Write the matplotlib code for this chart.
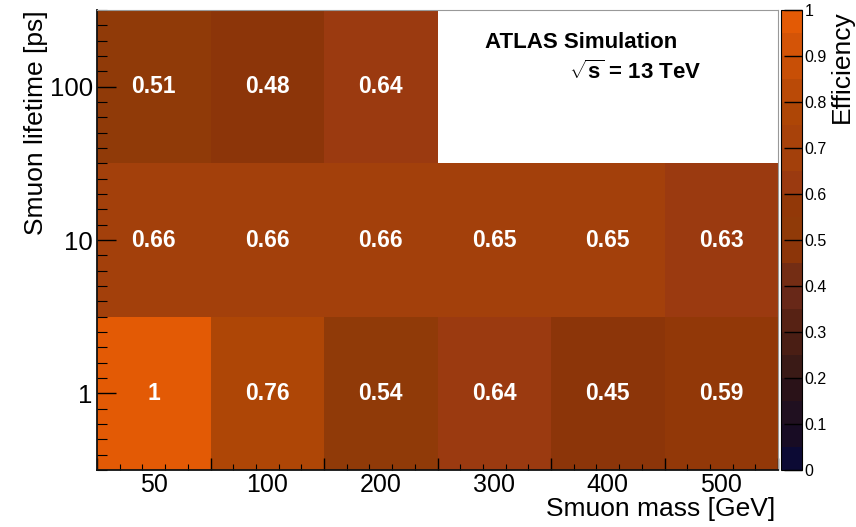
import matplotlib

matplotlib.use("Agg")
import numpy as np
import matplotlib.pyplot as plt
from matplotlib.colors import ListedColormap, BoundaryNorm

plt.rcParams["font.family"] = ["Liberation Sans", "DejaVu Sans"]
plt.rcParams["mathtext.fontset"] = "custom"
plt.rcParams["mathtext.rm"] = "Liberation Sans"
plt.rcParams["mathtext.bf"] = "Liberation Sans:bold"

# Signal grid: smuon mass points and lifetimes
masses = ["50", "100", "200", "300", "400", "500"]
lifetimes = [1, 10, 100]
eff_1ps = [1.0, 0.76, 0.54, 0.64, 0.45, 0.59]
eff_10ps = [0.66, 0.66, 0.66, 0.65, 0.65, 0.63]
eff_100ps = [0.51, 0.48, 0.64, np.nan, np.nan, np.nan]

# 20-step palette, dark navy at 0 up to orange at 1
palette = ["#0c0a34", "#180c24", "#201020", "#2a1218", "#3a1a16",
           "#4a1e14", "#572214", "#682818", "#742d14", "#8c3509",
           "#903a08", "#923808", "#9b3a10", "#a3400b", "#a8420a",
           "#ae4606", "#ba4a07", "#c84f06", "#d45407", "#e35a05"]
cmap = ListedColormap(palette)
cmap.set_bad("white")
levels = np.linspace(0, 1, 21)
norm = BoundaryNorm(levels, cmap.N)


def main():
    fig = plt.figure(figsize=(8.56, 5.27), dpi=100)
    ax = fig.add_axes([0.1133, 0.108, 0.7957, 0.873])
    cax = fig.add_axes([0.9124, 0.108, 0.0246, 0.873])

    z = np.ma.masked_invalid(np.array([eff_1ps, eff_10ps, eff_100ps]))
    xedges = np.arange(len(masses) + 1)
    ylog = np.log10(lifetimes)
    yedges = np.concatenate([ylog - 0.5, [ylog[-1] + 0.5]])
    mesh = ax.pcolormesh(xedges, yedges, z, cmap=cmap, norm=norm)

    for j, row in enumerate(z):
        for i, v in enumerate(row):
            if np.ma.is_masked(v):
                continue
            ax.text(i + 0.5, ylog[j], f"{v:g}", ha="center", va="center",
                    color="white", fontsize=16.5, weight="bold")

    ax.set_xlim(xedges[0], xedges[-1])
    ax.set_ylim(yedges[0], yedges[-1])

    # x: bin edges as major ticks, labels at bin centres
    ax.set_xticks(xedges)
    ax.set_xticklabels([])
    ax.set_xticks(np.arange(0, len(masses) + 0.01, 0.2), minor=True)
    ax.tick_params(axis="x", which="major", direction="in", length=9,
                   width=1, top=False)
    ax.tick_params(axis="x", which="minor", direction="in", length=4.5,
                   width=0.8, top=False)
    sec = ax.secondary_xaxis("bottom")
    sec.set_xticks(xedges[:-1] + 0.5)
    sec.set_xticklabels(masses, fontsize=18)
    sec.tick_params(length=0, pad=2)
    sec.spines["bottom"].set_visible(False)

    ax.set_yticks(ylog)
    ax.set_yticklabels([str(t) for t in lifetimes], fontsize=18.5)
    ax.set_yticks(np.arange(yedges[0], yedges[-1] + 0.001, 0.1), minor=True)
    ax.tick_params(axis="y", which="major", direction="in", length=14,
                   width=1, right=False, pad=3)
    ax.tick_params(axis="y", which="minor", direction="in", length=7,
                   width=0.8, right=False)

    for side in ("left", "bottom"):
        ax.spines[side].set_linewidth(1.3)
        ax.spines[side].set_color("#111111")
    for side in ("top", "right"):
        ax.spines[side].set_linewidth(0.8)
        ax.spines[side].set_color("#999999")

    fig.text(0.906, 0.021, "Smuon mass [GeV]", ha="right", va="baseline",
             fontsize=19)
    fig.text(0.042, 0.981, "Smuon lifetime [ps]", ha="center", va="top",
             rotation=90, fontsize=19)

    ax.text(0.570, 0.930, "ATLAS Simulation", transform=ax.transAxes,
            fontsize=16, weight="bold", ha="left", va="center")
    ax.text(0.693, 0.865, r"$\mathbf{\sqrt{s}}$ = 13 TeV",
            transform=ax.transAxes, fontsize=16, weight="bold",
            ha="left", va="center")

    cb = fig.colorbar(mesh, cax=cax, ticks=np.linspace(0, 1, 11))
    cb.ax.set_yticklabels([f"{t:g}" for t in np.linspace(0, 1, 11)],
                          fontsize=11.5)
    cb.ax.tick_params(direction="in", length=13, width=1, pad=2)
    cb.ax.minorticks_off()
    cb.outline.set_linewidth(0.8)
    fig.text(0.997, 0.981, "Efficiency", ha="right", va="top", rotation=90,
             fontsize=19)

    fig.savefig("out.png", dpi=100, facecolor="white")


if __name__ == "__main__":
    main()
